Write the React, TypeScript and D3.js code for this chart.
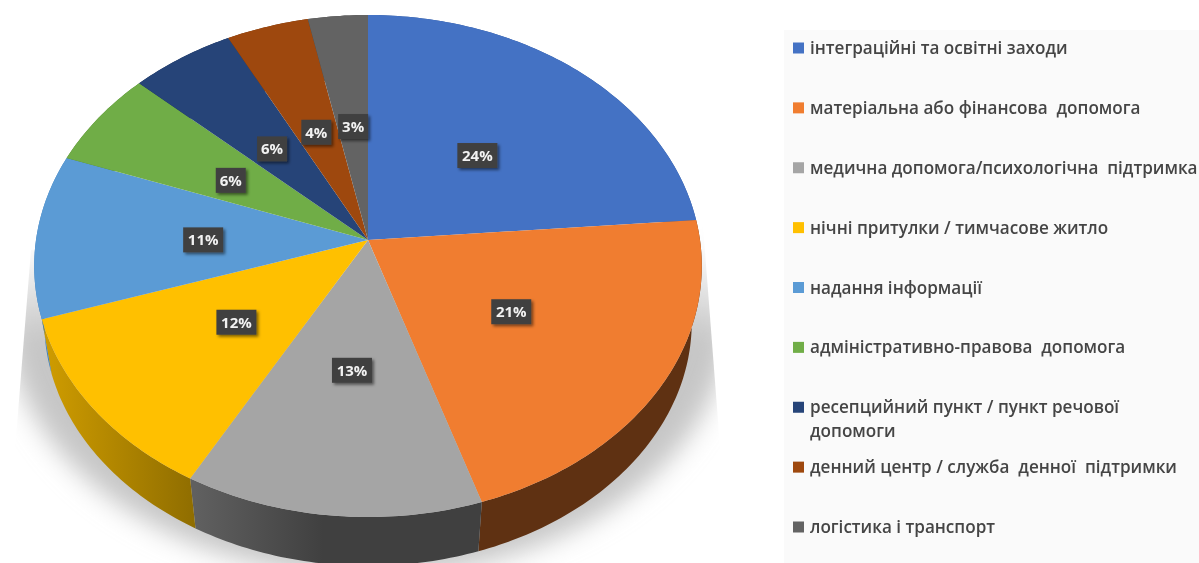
import React from "react";
import * as d3 from "d3";

const categories = [
  "інтеграційні та освітні заходи",
  "матеріальна або фінансова  допомога",
  "медична допомога/психологічна  підтримка",
  "нічні притулки / тимчасове житло",
  "надання інформації",
  "адміністративно-правова  допомога",
  "ресепцийний пункт / пункт речової|допомоги",
  "денний центр / служба  денної  підтримки",
  "логістика і транспорт",
];
const values = [23.7, 21.3, 13.1, 11.9, 10.55, 6.25, 5.6, 4.4, 3.2];
const colors = ["#4472c4", "#f07d30", "#a5a5a5", "#ffc000", "#5b9bd5", "#70ad47", "#264478", "#9e480e", "#636363"];
const wallLeft = ["#2f5597", "#5f3112", "#606060", "#cc9a00", "#3f7fb8", "#4f7f30", "#1a3055", "#6f320a", "#454545"];
const wallRight = ["#2f5597", "#5f3112", "#404040", "#8f6d00", "#3f7fb8", "#4f7f30", "#1a3055", "#6f320a", "#454545"];

const W = 1199;
const H = 563;
const persp = 0.1036;
const topRing = { cx: 368, cy: 240, rx: 332, ry: 248.3 };
const baseRing = { cx: 368, cy: 297, rx: 322, ry: 241 };
type Ring = typeof topRing;

const project = (ring: Ring, a: number, f = 1): [number, number] => {
  const s = Math.sin(a) * f;
  const c = Math.cos(a) * f;
  const d = 1 + persp * c;
  return [ring.cx + (ring.rx * s) / d, ring.cy - (ring.ry * c) / d];
};

const pieGen = d3.pie<number>().sort(null).value((v) => v);
const arcs = pieGen(values);
const line = d3.line<[number, number]>();
const sample = (a0: number, a1: number) => {
  const n = Math.max(2, Math.ceil((a1 - a0) * 60));
  return d3.range(n + 1).map((i) => a0 + ((a1 - a0) * i) / n);
};
const legendScale = d3.scaleLinear().domain([0, 8]).range([48, 527]);
const fmt = (v: number) => `${Math.round(v)}%`;

export default function App() {
  const fontFamily = "'Open Sans', 'Noto Sans', sans-serif";
  const shadowPts = d3.range(0, 361, 3).map((deg) => {
    const a = (deg * Math.PI) / 180;
    return [368 + 362 * Math.sin(a), 314 - 262 * Math.cos(a)] as [number, number];
  });
  return (
    <svg width={W} height={H} viewBox={`0 0 ${W} ${H}`} style={{ position: "absolute", left: 0, top: 0, background: "#fff" }}>
      <defs>
        <filter id="shBlur" x="-20%" y="-20%" width="140%" height="140%">
          <feGaussianBlur stdDeviation="13" />
        </filter>
        <filter id="soft" x="-5%" y="-20%" width="110%" height="140%">
          <feGaussianBlur stdDeviation="0.35" />
        </filter>
        <filter id="boxSh" x="-30%" y="-30%" width="170%" height="170%">
          <feDropShadow dx="2" dy="2" stdDeviation="1.5" floodColor="#000" floodOpacity="0.5" />
        </filter>
        <clipPath id="shClip">
          <polygon points="31,250 701,200 729,563 6,563" />
        </clipPath>
        <linearGradient id="shFill" gradientUnits="userSpaceOnUse" x1="0" x2="0" y1="240" y2="340">
          <stop offset="0" stopColor="#ffffff" />
          <stop offset="1" stopColor="#c6c6c6" />
        </linearGradient>
        {arcs.map((d, i) => {
          const x0 = project(baseRing, d.endAngle)[0];
          const x1 = project(baseRing, d.startAngle)[0];
          return (
            <linearGradient key={i} id={`wall${i}`} gradientUnits="userSpaceOnUse" x1={Math.min(x0, x1)} x2={Math.max(x0, x1)} y1="0" y2="0">
              <stop offset="0" stopColor={wallLeft[i]} />
              <stop offset={i === 2 ? 0.45 : 1} stopColor={wallRight[i]} />
            </linearGradient>
          );
        })}
      </defs>

      <g clipPath="url(#shClip)">
        <path d={line(shadowPts)! + "Z"} fill="url(#shFill)" filter="url(#shBlur)" />
      </g>

      <g>
        {arcs.map((d, i) => {
          const as = sample(d.startAngle, d.endAngle);
          const pts = [
            ...as.map((a) => project(topRing, a)),
            ...as.slice().reverse().map((a) => project(baseRing, a)),
          ];
          return <path key={i} d={line(pts)! + "Z"} fill={`url(#wall${i})`} />;
        })}
      </g>

      <g>
        {arcs.map((d, i) => {
          const pts: [number, number][] = [
            [topRing.cx, topRing.cy],
            ...sample(d.startAngle, d.endAngle).map((a) => project(topRing, a)),
          ];
          return <path key={i} d={line(pts)! + "Z"} fill={colors[i]} />;
        })}
      </g>

      <g>
        {arcs.map((d, i) => {
          const mid = (d.startAngle + d.endAngle) / 2;
          const [px, py] = project(topRing, mid, 0.5);
          const x = px + 1;
          const y = py + 2 * (1 + Math.cos(mid));
          const label = fmt(values[i]);
          const w = label.length === 3 ? 40 : 30;
          return (
            <g key={i}>
              <rect x={x - w / 2} y={y - 12.5} width={w} height={25} fill="#404040" filter="url(#boxSh)" />
              <text x={x} y={y + 5.5} textAnchor="middle" fontFamily={fontFamily} fontWeight={700} fontSize={15} fill="#f2f2f2" filter="url(#soft)">
                {label}
              </text>
            </g>
          );
        })}
      </g>

      <rect x={784} y={30} width={W - 784} height={H - 30} fill="#fafafa" />
      <g>
        {categories.map((c, i) => {
          const y = legendScale(i);
          const lines = c.split("|");
          return (
            <g key={i}>
              <rect x={793} y={y - 5.5} width={11} height={11} fill={colors[i]} />
              {lines.map((t, j) => (
                <text key={j} x={810} y={y + 6 + j * 24} xmlSpace="preserve" style={{ whiteSpace: "pre" }} fontFamily={fontFamily} fontWeight={600} fontSize={17.1} fill="#454545" filter="url(#soft)">
                  {t}
                </text>
              ))}
            </g>
          );
        })}
      </g>
    </svg>
  );
}
